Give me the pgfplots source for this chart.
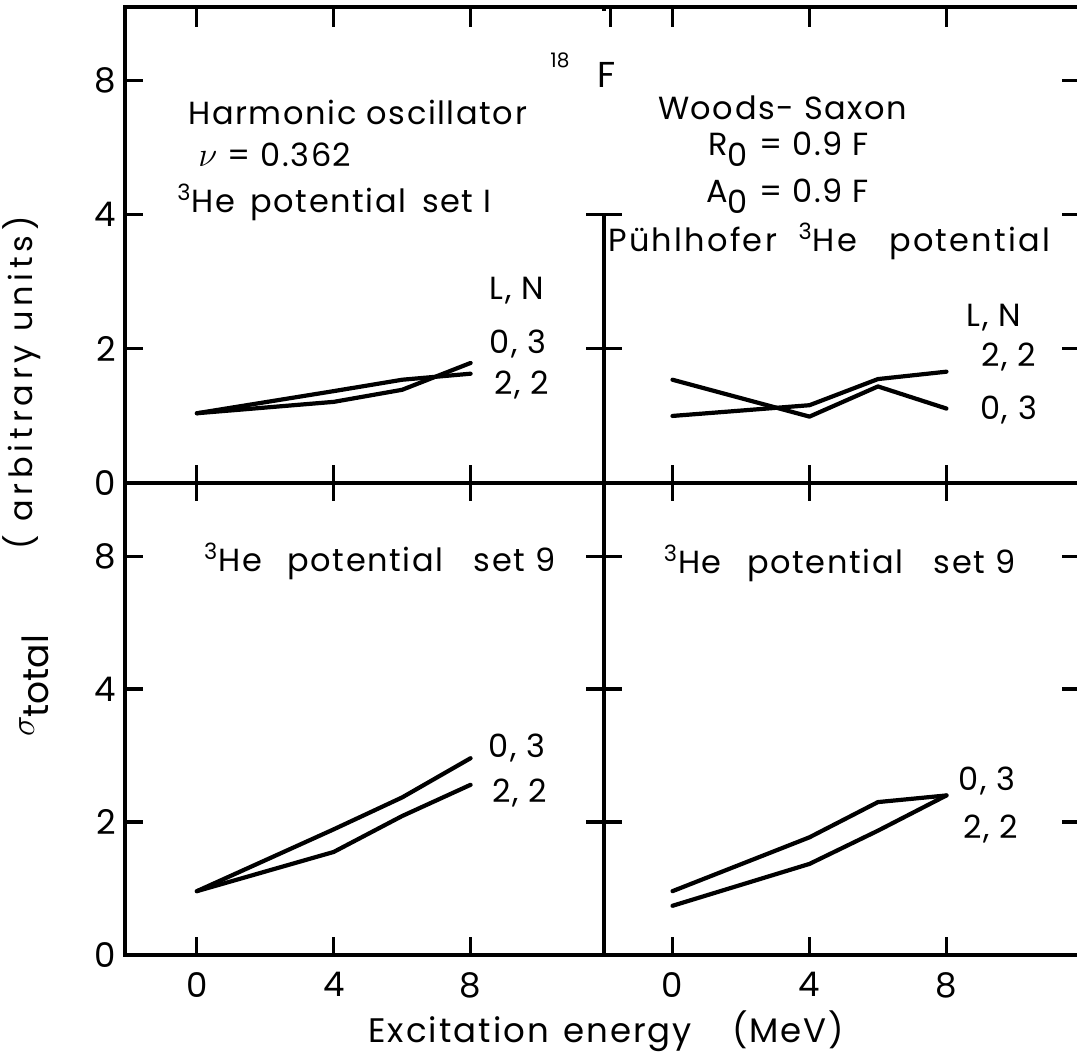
\documentclass[border=0pt]{standalone}
\usepackage{pgfplots}
\pgfplotsset{compat=1.18}
\usepackage{fontspec}
\setmainfont{Poppins}
\begin{document}
\begin{tikzpicture}
\useasboundingbox (0pt,0pt) rectangle (538.5pt,526pt);
\tikzset{txt/.style={font=\fontsize{16}{19}\selectfont\addfontfeatures{LetterSpace=5}, inner sep=0pt}}
\pgfplotsset{
  panel/.style={
    scale only axis, clip=false,
    ymin=0, ymax=7.1,
    xtick={0,4,8}, ytick={0,2,4,6},
    xticklabels={}, yticklabels={},
    tick align=inside,
    major tick length=9pt,
    tick style={line width=1.6pt, black},
    axis line style={line width=1.8pt},
    every axis plot post/.append style={line width=2.1pt, black, mark=none, line join=round, line cap=round},
    /pgf/number format/assume math mode=true,
    ticklabel style={font=\fontsize{17}{17}\selectfont},
    xticklabel style={yshift=-5pt},
    yticklabel style={xshift=-1pt},
  },
}
% ---------------- top left ----------------
\begin{axis}[panel, at={(62.5pt,284.5pt)}, anchor=south west,
  width=239.5pt, height=238pt, xmin=-2.1, xmax=11.9,
  yticklabels={0,2,4,8}]
\addplot coordinates {(0,1.04) (4,1.21) (6,1.39) (8,1.79)};
\addplot coordinates {(0,1.04) (4,1.37) (6,1.54) (8,1.63)};
\draw[line width=1.8pt, line cap=rect] (axis cs:-2.1,7.1) -- (axis cs:11.9,7.1);
\pgfplotsinvokeforeach{0,4,8}{\draw[line width=1.6pt] (axis cs:#1,7.1) -- ++(0pt,-10pt);}
\node[txt, anchor=base west] at (axis cs:-0.26,5.34) {Harmonic oscillator};
\node[txt, anchor=base west] at (axis cs:0.03,4.72) {$\nu$ = 0.362};
\node[txt, anchor=base west] at (axis cs:-0.58,4.03) {\textsuperscript{3}He\, potential\, set I};
\node[txt] at (axis cs:9.36,2.87) {L, N};
\node[txt] at (axis cs:9.39,2.07) {0, 3};
\node[txt] at (axis cs:9.5,1.46) {2, 2};
\end{axis}
% ---------------- top right ----------------
\begin{axis}[panel, at={(302pt,284.5pt)}, anchor=south west,
  width=238pt, height=238pt, xmin=-2, xmax=11.9]
\addplot coordinates {(0,1.54) (4,0.99) (6,1.44) (8,1.11)};
\addplot coordinates {(0,1.00) (4,1.16) (6,1.55) (8,1.66)};
\draw[line width=1.8pt] (axis cs:-2,7.1) -- (axis cs:12.2,7.1);
\pgfplotsinvokeforeach{-1.8,0,4,8}{\draw[line width=1.6pt] (axis cs:#1,7.1) -- ++(0pt,-10pt);}
\node[txt] at (axis cs:3.22,5.6) {Woods- Saxon};
\node[txt] at (axis cs:3.39,4.98) {R$_{\textrm{0}}$ = 0.9 F};
\node[txt] at (axis cs:3.36,4.28) {A$_{\textrm{0}}$ = 0.9 F};
\node[txt] at (axis cs:9.39,2.46) {L, N};
\node[txt] at (axis cs:9.82,1.88) {2, 2};
\node[txt] at (axis cs:9.82,1.09) {0, 3};
\end{axis}
% ---------------- bottom left ----------------
\begin{axis}[panel, at={(62.5pt,48.5pt)}, anchor=south west,
  width=239.5pt, height=236pt, xmin=-2.1, xmax=11.9,
  xticklabels={0,4,8}, yticklabels={0,2,4,8}]
\addplot coordinates {(0,0.96) (4,1.89) (6,2.37) (8,2.96)};
\addplot coordinates {(0,0.96) (4,1.55) (6,2.09) (8,2.56)};
\node[txt, anchor=west] at (axis cs:0.2,5.92) {\textsuperscript{3}He\ \ \,potential\ \ \ set 9};
\node[txt] at (axis cs:9.36,3.12) {0, 3};
\node[txt] at (axis cs:9.44,2.44) {2, 2};
\end{axis}
% ---------------- bottom right ----------------
\begin{axis}[panel, at={(302pt,48.5pt)}, anchor=south west,
  width=238pt, height=236pt, xmin=-2, xmax=11.9,
  xticklabels={0,4,8}]
\addplot coordinates {(0,0.96) (4,1.77) (6,2.30) (8,2.40)};
\addplot coordinates {(0,0.74) (4,1.37) (6,1.87) (8,2.40)};
\node[txt, anchor=west] at (axis cs:-0.26,5.89) {\textsuperscript{3}He\ \ \,potential\ \ \ set 9};
\node[txt] at (axis cs:9.18,2.61) {0, 3};
\node[txt] at (axis cs:9.3,1.89) {2, 2};
\end{axis}
% ---- the divider between the two upper panels stops at the tick 4 ----
\fill[white] (292pt,419.6pt) rectangle (312pt,520.5pt);
% ---- top frame line with its inward ticks ----
\draw[line width=1.8pt] (61.6pt,522.5pt) -- (541pt,522.5pt);
\foreach \xx in {98.4,166.8,235.3,305.4,336.2,404.7,473.2}
  {\draw[line width=1.6pt] (\xx pt,522.5pt) -- (\xx pt,512.5pt);}
% ---------------- texts laid over the top area ----------------
\node[font=\fontsize{10}{11}\selectfont, inner sep=0pt] at (280pt,496pt) {18};
\node[font=\fontsize{18}{20}\selectfont, inner sep=0pt] at (303.5pt,488.5pt) {F};
\node[font=\fontsize{16}{19}\selectfont\addfontfeatures{LetterSpace=7}, inner sep=0pt, anchor=base west] at (304pt,400pt) {Pühlhofer\ \ \textsuperscript{3}He\ \ \ potential};
% ---------------- axis titles ----------------
\node[font=\fontsize{17}{19}\selectfont\addfontfeatures{LetterSpace=6}, anchor=base west, inner sep=0pt] at (184pt,4.5pt) {Excitation\hspace{7pt}energy\hspace{20pt}(MeV)};
\node[font=\fontsize{18}{20}\selectfont, anchor=base west, rotate=90, inner sep=0pt] at (17pt,157.5pt) {$\sigma_{\textrm{total}}$};
\node[font=\fontsize{16}{19}\selectfont\addfontfeatures{LetterSpace=15}, anchor=base west, rotate=90, inner sep=0pt] at (16pt,251pt) {( arbitrary\ units)};
\end{tikzpicture}
\end{document}
